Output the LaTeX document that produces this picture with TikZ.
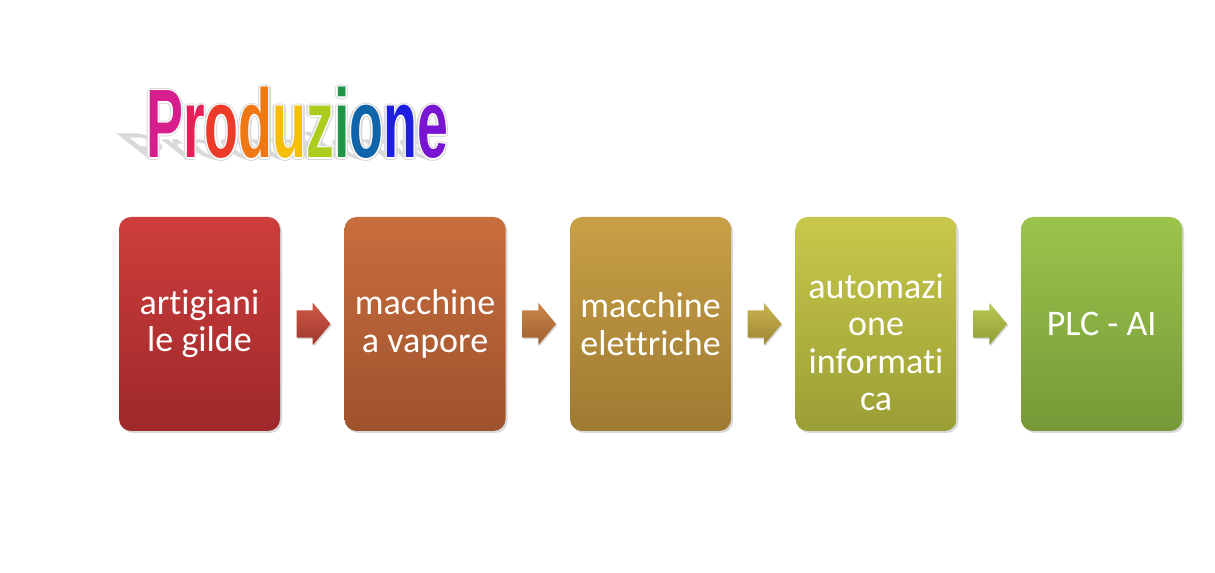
\documentclass[tikz,border=0pt]{standalone}
\usepackage{fontspec}
\setmainfont{Carlito}[Ligatures={NoCommon,NoRare,NoContextual}]
\newfontfamily\titolofont{Liberation Sans}
\usepackage{xcolor}
\usetikzlibrary{shapes.arrows, shadows, calc, positioning}

% Colori dei blocchi
\definecolor{alto1}{RGB}{206,62,60}
\definecolor{basso1}{RGB}{158,40,42}
\definecolor{alto2}{RGB}{201,110,62}
\definecolor{basso2}{RGB}{158,82,45}
\definecolor{alto3}{RGB}{200,160,70}
\definecolor{basso3}{RGB}{158,122,50}
\definecolor{alto4}{RGB}{200,200,75}
\definecolor{basso4}{RGB}{155,158,52}
\definecolor{alto5}{RGB}{156,196,76}
\definecolor{basso5}{RGB}{118,152,55}
% Colori del titolo
\definecolor{tP}{RGB}{214,30,140}
\definecolor{tr}{RGB}{232,32,90}
\definecolor{to}{RGB}{238,58,40}
\definecolor{td}{RGB}{240,120,20}
\definecolor{tu}{RGB}{244,190,10}
\definecolor{tz}{RGB}{170,205,30}
\definecolor{ti}{RGB}{30,150,70}
\definecolor{too}{RGB}{16,100,170}
\definecolor{tn}{RGB}{30,30,225}
\definecolor{te}{RGB}{120,20,210}

\newcommand{\parola}{Produzione}
\newcommand{\parolacolori}{\color{tP}P\color{tr}r\color{to}o\color{td}d\color{tu}u\color{tz}z\color{ti}i\color{too}o\color{tn}n\color{te}e}

\begin{document}
\begin{tikzpicture}[x=0.75pt, y=0.75pt,
    blocco/.style={rounded corners=9pt, minimum width=120.75pt, minimum height=160.5pt,
        inner sep=0pt, align=center, text=white, font=\fontsize{27}{28}\selectfont,
        drop shadow={shadow xshift=1.5pt, shadow yshift=-1.5pt, opacity=0.3}},
    freccia/.style={single arrow, minimum height=25.5pt, inner xsep=0pt, inner ysep=10.1pt,
        single arrow head extend=5.6pt, single arrow tip angle=100, anchor=tail,
        drop shadow={shadow xshift=1pt, shadow yshift=-1pt, opacity=0.3}},
    titolo/.style={anchor=base west, inner sep=0pt,
        font=\titolofont\bfseries\fontsize{73}{80}\selectfont}]
    \useasboundingbox (0,0) rectangle (1215,573);
    % Titolo
    \node[titolo, text=gray!30, cm={0.57,0,-0.5,0.4,(0,0)}] (ombra) at (146,412) {\parola};
    \foreach \a in {0,45,...,315}{
        \node[titolo, xscale=0.57, text=gray!30] (bordo\a) at ($(146,415)+(\a:2.6)$) {\parola};
    }
    \foreach \a in {0,45,...,315}{
        \node[titolo, xscale=0.57, text=white] (bianco\a) at ($(146,415)+(\a:1.3)$) {\parola};
    }
    \node[titolo, xscale=0.57] (titolo) at (146,415) {\parolacolori};
    % Blocchi
    \node[blocco, top color=alto1, bottom color=basso1] (b1) at (199.5,249) {artigiani\\le gilde};
    \node[blocco, top color=alto2, bottom color=basso2, right=48pt of b1] (b2) {macchine\\a vapore};
    \node[blocco, top color=alto3, bottom color=basso3, right=48pt of b2] (b3) {macchine\\elettriche};
    \node[blocco, top color=alto4, bottom color=basso4, right=48pt of b3] (b4) {\rule{0pt}{46pt}automazi\\one\\informati\\ca};
    \node[blocco, top color=alto5, bottom color=basso5, right=48pt of b4] (b5) {PLC - AI};
    % Frecce
    \foreach \i [evaluate=\i as \j using int(\i+1)] in {1,...,4}{
        \node[freccia, top color=alto\i!65!alto\j!95!white, bottom color=basso\i!65!basso\j]
            (f\i) at ($(b\i.east)!0.25!(b\j.west)$) {};
    }
\end{tikzpicture}
\end{document}
